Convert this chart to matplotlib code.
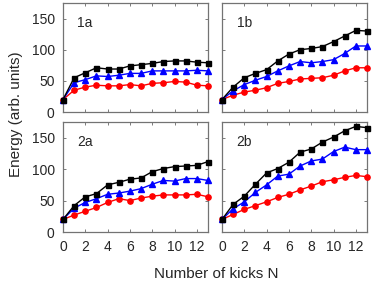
import numpy as np
import matplotlib
matplotlib.use("Agg")
import matplotlib.pyplot as plt

plt.rcParams['font.family'] = ['Liberation Sans', 'DejaVu Sans']
plt.rcParams['text.color'] = '0.15'
plt.rcParams['xtick.labelcolor'] = '0.15'
plt.rcParams['ytick.labelcolor'] = '0.15'

# kick number
kicks = np.arange(14)

# panel 1a
black_1a = [20, 55, 63, 71, 69, 69, 74, 76, 78, 81, 82, 82, 80, 79]
blue_1a = [20, 47, 52, 58, 57, 59, 62, 62, 66, 66, 66, 66, 67, 66]
red_1a = [20, 35, 40, 43, 42, 42, 44, 42, 46, 47, 49, 48, 43, 42]

# panel 1b
black_1b = [20, 40, 55, 62, 68, 82, 93, 100, 102, 105, 113, 122, 131, 130]
blue_1b = [20, 34, 44, 51, 57, 66, 74, 81, 79, 81, 84, 94, 106, 106]
red_1b = [20, 27, 32, 35, 39, 46, 49, 53, 54, 55, 59, 66, 71, 71]

# panel 2a
black_2a = [20, 42, 56, 61, 75, 79, 84, 86, 96, 101, 104, 105, 106, 112]
blue_2a = [20, 38, 47, 53, 60, 62, 65, 69, 76, 82, 81, 85, 85, 82]
red_2a = [20, 27, 33, 39, 47, 53, 50, 54, 57, 59, 59, 59, 60, 56]

# panel 2b
black_2b = [20, 44, 57, 76, 94, 101, 111, 127, 132, 143, 151, 161, 168, 166]
blue_2b = [20, 37, 48, 63, 75, 89, 92, 105, 113, 116, 128, 135, 131, 131]
red_2b = [20, 28, 36, 42, 48, 55, 60, 67, 73, 80, 83, 87, 90, 88]

panel_names = ['1a', '1b', '2a', '2b']
panel_data = {
    '1a': (black_1a, blue_1a, red_1a),
    '1b': (black_1b, blue_1b, red_1b),
    '2a': (black_2a, blue_2a, red_2a),
    '2b': (black_2b, blue_2b, red_2b),
}

W, H = 374, 285
fig = plt.figure(figsize=(W / 100, H / 100), dpi=100)

# axes boxes in pixels: left, top, right, bottom
boxes = {
    '1a': (63, 3, 208, 112),
    '1b': (222, 3, 367, 112),
    '2a': (63, 122, 208, 232),
    '2b': (222, 122, 367, 232),
}

for name in panel_names:
    l, t, r, b = boxes[name]
    ax = fig.add_axes([l / W, 1 - b / H, (r - l) / W, (b - t) / H])
    black, blue, red = panel_data[name]
    ax.plot(kicks, red, '-o', color='red', lw=1.0, ms=3.8, clip_on=False, zorder=3)
    ax.plot(kicks, blue, '-^', color='blue', lw=1.0, ms=4.2, clip_on=False, zorder=4)
    ax.plot(kicks, black, '-s', color='black', lw=1.0, ms=3.6, clip_on=False, zorder=5)
    ax.set_xlim(0, 13)
    ax.set_ylim(0, 175)
    ax.set_xticks(range(0, 14, 2))
    ax.set_yticks([0, 50, 100, 150])
    ax.tick_params(direction='in', length=2, width=0.6, top=True, right=True,
                   labelsize=10, pad=6, color='0.4')
    for sp in ax.spines.values():
        sp.set_color('0.45')
        sp.set_linewidth(0.9)
    if name in ('1b', '2b'):
        ax.tick_params(labelleft=False)
    if name in ('1a', '1b'):
        ax.tick_params(labelbottom=False)
    ax.text(0.1, 0.82, name, transform=ax.transAxes, fontsize=10, va='center', ha='left')

fig.text(16 / W, 1 - 114 / H, 'Energy (arb. units)', rotation=90, ha='center', va='center', fontsize=11)
fig.text(216 / W, 1 - 274 / H, 'Number of kicks N', ha='center', va='center', fontsize=11)

fig.savefig('out.png', dpi=100)
